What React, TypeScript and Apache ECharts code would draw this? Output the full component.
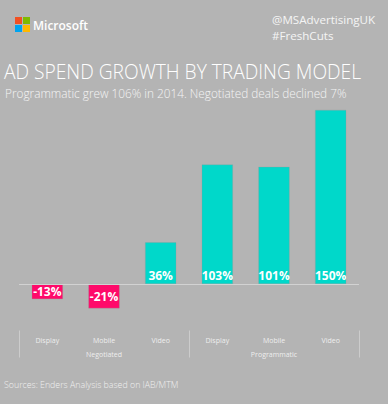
import React, { useEffect, useRef } from "react";
import * as echarts from "echarts";

const categories = ["Display", "Mobile", "Video", "Display", "Mobile", "Video"];
const groups = ["Negotiated", "Programmatic"];
const growth = [-13, -21, 36, 103, 101, 150];

const TEAL = "#00d8ca";
const PINK = "#ff0a6a";
const FONT = "'Open Sans', 'Noto Sans', sans-serif";

export default function App() {
  const ref = useRef<HTMLDivElement>(null);
  useEffect(() => {
    document.body.style.margin = "0";
    const chart = echarts.init(ref.current!, null, { renderer: "svg" });
    chart.setOption({
      animation: false,
      backgroundColor: "#b4b4b4",
      textStyle: { fontFamily: FONT },
      grid: { left: 19, right: 29, top: 110, bottom: 73.5 },
      xAxis: [
        {
          type: "category",
          data: categories,
          position: "bottom",
          axisLine: { show: false },
          axisTick: { show: false },
          axisLabel: { color: "#eeeeee", fontSize: 7, margin: 6, fontFamily: FONT },
        },
        {
          type: "category",
          data: groups,
          position: "bottom",
          axisLine: { show: false },
          axisTick: { show: true, length: 27, lineStyle: { color: "#cccccc", width: 1 } },
          axisLabel: { color: "#eeeeee", fontSize: 7, margin: 20, fontFamily: FONT },
        },
      ],
      yAxis: {
        type: "value",
        min: -40,
        max: 150,
        show: false,
        splitLine: { show: false },
      },
      series: [
        {
          type: "bar",
          xAxisIndex: 0,
          barWidth: "55%",
          data: growth.map((v) => ({
            value: v,
            itemStyle: {
              color: v < 0 ? PINK : TEAL,
              borderColor: "rgba(150,150,150,0.6)",
              borderWidth: 0.5,
            },
            label: {
              show: true,
              position: v < 0 ? "inside" : "insideBottom",
              distance: 3,
              formatter: "{c}%",
              color: "#ffffff",
              fontWeight: "bold",
              fontSize: 12,
              fontFamily: FONT,
            },
          })),
          markLine: {
            silent: true,
            symbol: "none",
            label: { show: false },
            lineStyle: { color: "#d2d2d2", width: 1, type: "solid" },
            data: [{ yAxis: 0 }],
          },
        },
      ],
      graphic: [
        { type: "rect", shape: { x: 15, y: 17, width: 7, height: 7 }, style: { fill: "#f25022" } },
        { type: "rect", shape: { x: 23, y: 17, width: 7, height: 7 }, style: { fill: "#7fba00" } },
        { type: "rect", shape: { x: 15, y: 25, width: 7, height: 7 }, style: { fill: "#00a4ef" } },
        { type: "rect", shape: { x: 23, y: 25, width: 7, height: 7 }, style: { fill: "#ffb900" } },
        {
          type: "text",
          x: 33,
          y: 25,
          style: {
            text: "Microsoft",
            fill: "#ffffff",
            font: `600 12px ${FONT}`,
            textVerticalAlign: "middle",
          },
        },
        {
          type: "text",
          x: 272,
          y: 19.5,
          style: {
            text: "@MSAdvertisingUK",
            fill: "#f4f4f4",
            font: `400 11.6px ${FONT}`,
            textAlign: "left",
            textVerticalAlign: "middle",
          },
        },
        {
          type: "text",
          x: 272,
          y: 35,
          style: {
            text: "#FreshCuts",
            fill: "#f4f4f4",
            font: `400 11.6px ${FONT}`,
            textAlign: "left",
            textVerticalAlign: "middle",
          },
        },
        {
          type: "text",
          x: 4,
          y: 71.5,
          style: {
            text: "AD SPEND GROWTH BY TRADING MODEL",
            fill: "#ffffff",
            font: `300 19.2px ${FONT}`,
            textVerticalAlign: "middle",
          },
        },
        {
          type: "text",
          x: 5,
          y: 93,
          style: {
            text: "Programmatic grew 106% in 2014. Negotiated deals declined 7%",
            fill: "#f4f4f4",
            font: `300 11.8px ${FONT}`,
            textVerticalAlign: "middle",
          },
        },
        {
          type: "text",
          x: 4,
          y: 385,
          style: {
            text: "Sources: Enders Analysis based on IAB/MTM",
            fill: "#f0f0f0",
            font: `300 8.8px ${FONT}`,
            textVerticalAlign: "middle",
          },
        },
      ],
    });
    return () => chart.dispose();
  }, []);
  return <div ref={ref} style={{ width: 388, height: 404 }} />;
}
